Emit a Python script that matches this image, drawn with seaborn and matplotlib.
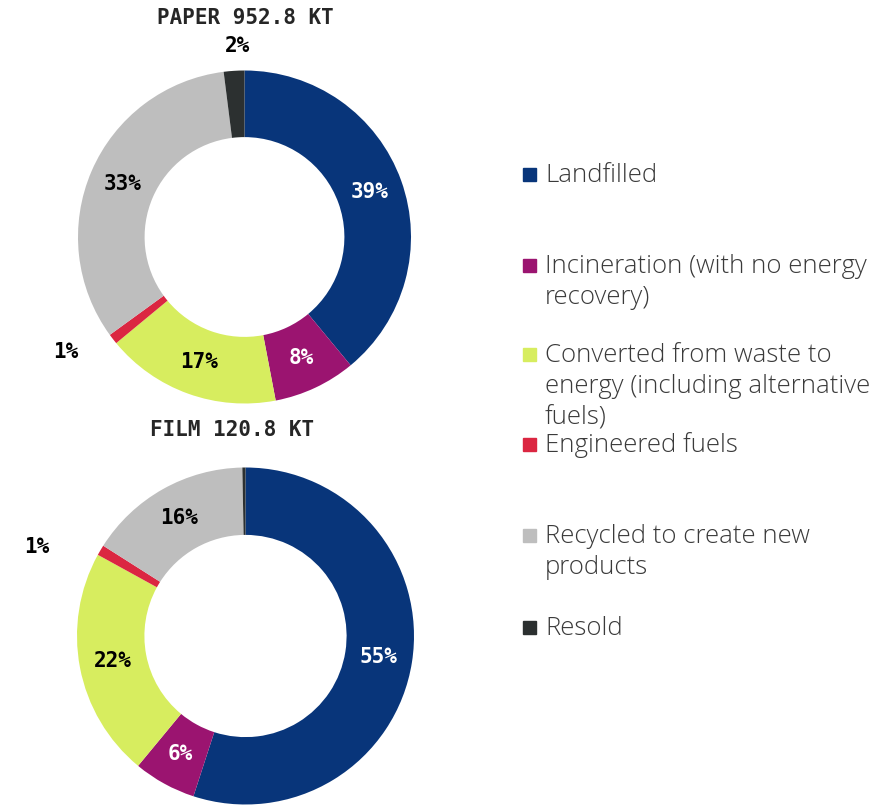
import numpy as np
import matplotlib.pyplot as plt
import seaborn as sns
from matplotlib.patches import Rectangle

sns.set_theme(style="white")
plt.rcParams['font.family'] = ['Open Sans', 'DejaVu Sans']

# data
categories = ["Landfilled", "Incineration (with no energy\nrecovery)",
              "Converted from waste to\nenergy (including alternative\nfuels)",
              "Engineered fuels", "Recycled to create new\nproducts", "Resold"]
colors = ["#08357a", "#9b1470", "#d7ed5f", "#db2641", "#bebebe", "#2c3030"]
paper_values = [39, 8, 17, 1, 33, 2]
film_values = [55, 6, 22, 1, 15.7, 0.3]
paper_title = "PAPER 952.8 KT"
film_title = "FILM 120.8 KT"

W, H = 882, 805
fig = plt.figure(figsize=(W / 100, H / 100), dpi=100)
fig.patch.set_facecolor("white")

pix_font = dict(family="DejaVu Sans Mono", fontweight="bold", fontsize=15)


def donut(cx, cy, r, values, title, title_xy, outside, hide_small=()):
    ax = fig.add_axes([(cx - r) / W, (H - cy - r) / H, 2 * r / W, 2 * r / H])
    ax.pie(values, colors=colors, startangle=90, counterclock=False,
           radius=1.0, wedgeprops=dict(width=0.4, linewidth=0))
    ax.set_xlim(-1, 1)
    ax.set_ylim(-1, 1)
    ax.axis("off")
    total = sum(values)
    cum = 0
    for i, v in enumerate(values):
        mid = (cum + v / 2) / total
        cum += v
        if i in hide_small:
            continue
        # outside labels get their own radius and a small angle nudge
        rr, shift = outside.get(i, (0.8, 0))
        ang = np.deg2rad(90 - 360 * mid + shift)
        col = "white" if rr < 1 and i in (0, 1) else "black"
        ax.text(rr * np.cos(ang), rr * np.sin(ang), f"{round(v):d}%",
                ha="center", va="center", color=col, clip_on=False, **pix_font)
    fig.text(title_xy[0] / W, 1 - title_xy[1] / H, title,
             ha="center", va="center", **pix_font)


donut(244.5, 237, 166.5, paper_values, paper_title, (245, 18),
      {3: (1.28, -5), 5: (1.15, -1.5)})
donut(245.5, 636, 168.5, film_values, film_title, (232, 430),
      {3: (1.35, 7.5)}, hide_small=(5,))

# legend, drawn by hand because of the uneven spacing
baselines = [182, 273, 362, 452, 543, 635]
line_h = 31
for lab, col, yb in zip(categories, colors, baselines):
    fig.patches.append(Rectangle((523 / W, 1 - (yb - 1) / H), 13 / W, 13 / H,
                                 transform=fig.transFigure, color=col))
    for j, line in enumerate(lab.split("\n")):
        fig.text(545 / W, 1 - (yb + j * line_h) / H, line, ha="left",
                 va="baseline", fontsize=18.5, color="#3a3a3a",
                 fontweight="light")

fig.savefig("out.png", dpi=100, facecolor="white")
